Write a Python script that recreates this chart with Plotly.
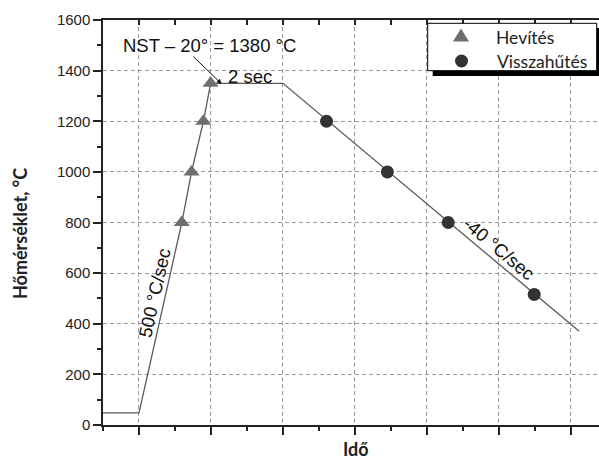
import plotly.graph_objects as go

# Thermal cycle: time (arbitrary units) vs temperature (°C)
profile_t = [0.0, 1.0, 2.19, 2.46, 2.79, 2.99, 5.0, 13.23]
profile_T = [48, 48, 800, 1000, 1200, 1350, 1350, 370]

heat_t = [2.19, 2.46, 2.79, 2.99]
heat_T = [800, 1000, 1200, 1350]

cool_t = [6.21, 7.90, 9.59, 11.98]
cool_T = [1200, 1000, 800, 516]

y_ticks = [0, 200, 400, 600, 800, 1000, 1200, 1400, 1600]
y_ticktext = [str(v) for v in y_ticks]

series_names = ["Hevítés", "Visszahűtés"]
heat_color = "#6e6e6e"
cool_color = "#333333"

W, H = 599, 461
L, R, T, B = 103, 0, 20, 36
PW, PH = W - L - R, H - T - B
X_RANGE = [0, 13.78]
Y_RANGE = [0, 1600]

LABEL_FONT = "Liberation Sans, Arial, sans-serif"
TITLE_FONT = "Lato, Open Sans, sans-serif"


def px_x(px):
    return (px - L) / PW * (X_RANGE[1] - X_RANGE[0]) + X_RANGE[0]


def px_y(py):
    return (H - B - py) / PH * (Y_RANGE[1] - Y_RANGE[0]) + Y_RANGE[0]


def pp_x(px):
    return (px - L) / PW


def pp_y(py):
    return (H - B - py) / PH


fig = go.Figure()

fig.add_trace(go.Scatter(
    x=profile_t, y=profile_T, mode="lines",
    line=dict(color="#5a5a5a", width=1.3),
    showlegend=False, hoverinfo="skip",
))
fig.add_trace(go.Scatter(
    x=heat_t, y=heat_T, mode="markers", name=series_names[0], showlegend=False,
    marker=dict(symbol="triangle-up", size=14, color=heat_color),
))
fig.add_trace(go.Scatter(
    x=cool_t, y=cool_T, mode="markers", name=series_names[1], showlegend=False,
    marker=dict(symbol="circle", size=13, color=cool_color),
))
# carries the top (mirrored) time axis
fig.add_trace(go.Scatter(
    x=[None], y=[None], xaxis="x2", showlegend=False, hoverinfo="skip",
))

grid = dict(showgrid=True, gridcolor="#9a9a9a", gridwidth=1, griddash="4px,3px")

fig.update_layout(
    width=W, height=H,
    margin=dict(l=L, r=R, t=T, b=B, autoexpand=False),
    paper_bgcolor="white", plot_bgcolor="white",
    showlegend=False,
    xaxis=dict(
        range=X_RANGE, tick0=1, dtick=2, showticklabels=False,
        ticks="outside", ticklen=8, tickwidth=1.5, tickcolor="#222",
        minor=dict(tick0=0, dtick=1, ticks="outside", ticklen=4,
                   tickwidth=1.5, tickcolor="#222", showgrid=False),
        showline=True, linecolor="#222", linewidth=1.5,
        zeroline=False, **grid,
    ),
    xaxis2=dict(
        range=X_RANGE, overlaying="x", side="top", anchor="y",
        tick0=0, dtick=1, showticklabels=False,
        ticks="inside", ticklen=5, tickwidth=1.5, tickcolor="#222",
        showline=True, linecolor="#222", linewidth=1.5,
        showgrid=False, zeroline=False,
    ),
    yaxis=dict(
        range=Y_RANGE, tickmode="array", tickvals=y_ticks, ticktext=y_ticktext,
        ticks="outside", ticklen=8, tickwidth=1.5, tickcolor="#222",
        minor=dict(tick0=0, dtick=100, ticks="outside", ticklen=4,
                   tickwidth=1.5, tickcolor="#222", showgrid=False),
        tickfont=dict(family=LABEL_FONT, size=15, color="#222"),
        showline=True, linecolor="#222", linewidth=1.5,
        zeroline=False, **grid,
    ),
)

ann_font = dict(family=LABEL_FONT, size=18.5, color="#111")

fig.add_annotation(
    x=px_x(221.7), y=px_y(84), ax=px_x(191.7), ay=px_y(55),
    xref="x", yref="y", axref="x", ayref="y",
    showarrow=True, arrowhead=2, arrowsize=1, arrowwidth=1, arrowcolor="#111",
    text="",
)
fig.add_annotation(x=px_x(209.7), y=px_y(45), text="NST – 20° = 1380 °C",
                   showarrow=False, font=ann_font)
fig.add_annotation(x=px_x(250), y=px_y(76), text="2 sec",
                   showarrow=False, font=ann_font)
fig.add_annotation(x=px_x(154), y=px_y(293), text="500 °C/sec",
                   showarrow=False, font=ann_font, textangle=-77.4)
fig.add_annotation(x=px_x(499), y=px_y(248), text="-40 °C/sec",
                   showarrow=False, font=ann_font, textangle=39.85)

# axis titles
fig.add_annotation(xref="paper", yref="paper", x=pp_x(20), y=pp_y(234),
                   xanchor="center", yanchor="middle",
                   text="<b>Hőmérséklet, °C</b>", textangle=-90, showarrow=False,
                   font=dict(family=TITLE_FONT, size=18, color="#222"))
fig.add_annotation(xref="paper", yref="paper", x=pp_x(356), y=pp_y(462),
                   xanchor="center", yanchor="bottom",
                   text="<b>Idő</b>", showarrow=False,
                   font=dict(family=TITLE_FONT, size=18, color="#222"))

# legend: drop shadow, framed box, symbols and labels
fig.add_shape(type="rect", xref="paper", yref="paper",
              x0=pp_x(432.7), x1=pp_x(604), y0=pp_y(76), y1=pp_y(28),
              fillcolor="black", line=dict(width=0), layer="above")
fig.add_shape(type="rect", xref="paper", yref="paper",
              x0=pp_x(427.7), x1=pp_x(596.7), y0=pp_y(70.7), y1=pp_y(23.3),
              fillcolor="white", line=dict(color="black", width=1), layer="above")
tri_cx, tri_cy, tri_w, tri_h = 461, 35, 16, 13
fig.add_shape(
    type="path", xref="paper", yref="paper", layer="above",
    path=(f"M{pp_x(tri_cx - tri_w / 2)},{pp_y(tri_cy + tri_h / 2)} "
          f"L{pp_x(tri_cx + tri_w / 2)},{pp_y(tri_cy + tri_h / 2)} "
          f"L{pp_x(tri_cx)},{pp_y(tri_cy - tri_h / 2)} Z"),
    fillcolor=heat_color, line=dict(width=0),
)
cir_cx, cir_cy, cir_d = 461.5, 61, 13
fig.add_shape(type="circle", xref="paper", yref="paper", layer="above",
              x0=pp_x(cir_cx - cir_d / 2), x1=pp_x(cir_cx + cir_d / 2),
              y0=pp_y(cir_cy + cir_d / 2), y1=pp_y(cir_cy - cir_d / 2),
              fillcolor=cool_color, line=dict(width=0))
legend_font = dict(family=TITLE_FONT, size=17.5, color="#222")
fig.add_annotation(xref="paper", yref="paper", x=pp_x(494), y=pp_y(37.5),
                   xanchor="left", yanchor="middle", showarrow=False,
                   text=series_names[0], font=legend_font)
fig.add_annotation(xref="paper", yref="paper", x=pp_x(495), y=pp_y(61.5),
                   xanchor="left", yanchor="middle", showarrow=False,
                   text=series_names[1], font=legend_font)

fig.write_html("out.html")
